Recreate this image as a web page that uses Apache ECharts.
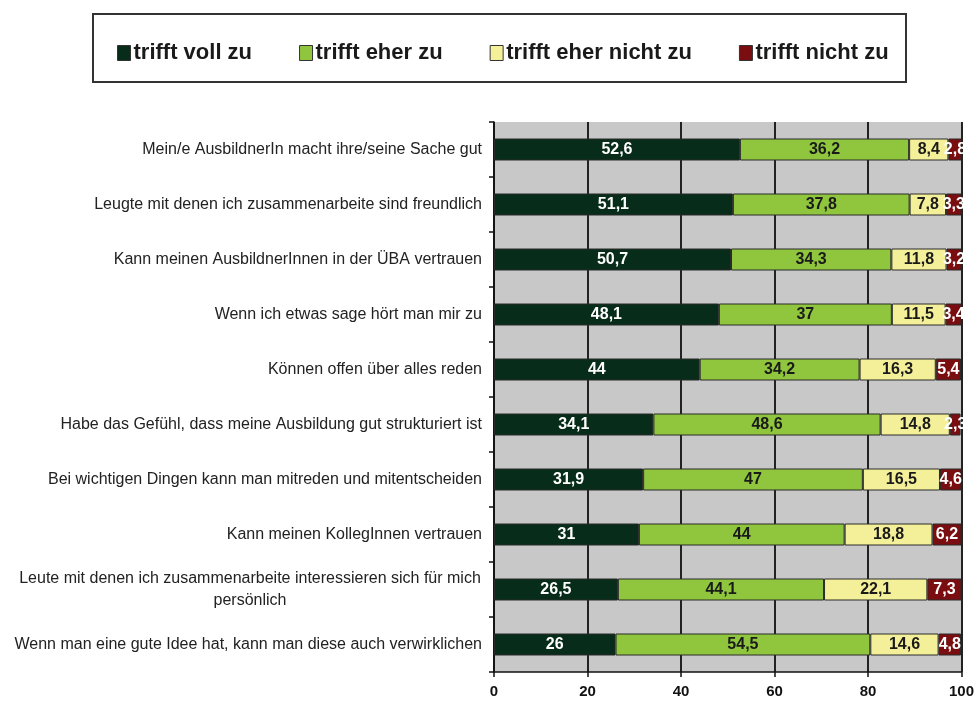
<!DOCTYPE html>
<html>
<head>
<meta charset="utf-8">
<script src="https://cdn.jsdelivr.net/npm/echarts@6/dist/echarts.min.js"></script>
<style>
  html, body { margin: 0; padding: 0; background: #fff; }
  #myChart { width: 977px; height: 702px; }
</style>
</head>
<body>
<div id="myChart"></div>
<script>
// Kategorien (von oben nach unten)
var categories = [
  'Mein/e AusbildnerIn macht ihre/seine Sache gut',
  'Leugte mit denen ich zusammenarbeite sind freundlich',
  'Kann meinen AusbildnerInnen in der ÜBA vertrauen',
  'Wenn ich etwas sage hört man mir zu',
  'Können offen über alles reden',
  'Habe das Gefühl, dass meine Ausbildung gut strukturiert ist',
  'Bei wichtigen Dingen kann man mitreden und mitentscheiden',
  'Kann meinen KollegInnen vertrauen',
  'Leute mit denen ich zusammenarbeite interessieren sich für mich\npersönlich',
  'Wenn man eine gute Idee hat, kann man diese auch verwirklichen'
]
var seriesNames = ['trifft voll zu', 'trifft eher zu', 'trifft eher nicht zu', 'trifft nicht zu']
var volZu = [52.6, 51.1, 50.7, 48.1, 44, 34.1, 31.9, 31, 26.5, 26]
var eherZu = [36.2, 37.8, 34.3, 37, 34.2, 48.6, 47, 44, 44.1, 54.5]
var eherNichtZu = [8.4, 7.8, 11.8, 11.5, 16.3, 14.8, 16.5, 18.8, 22.1, 14.6]
var nichtZu = [2.8, 3.3, 3.2, 3.4, 5.4, 2.3, 4.6, 6.2, 7.3, 4.8]
var xTicks = [0, 20, 40, 60, 80, 100]

var colors = ['#072c19', '#8fc63d', '#f4f09a', '#7a0d0f']
var labelColors = ['#ffffff', '#1a1a1a', '#1a1a1a', '#ffffff']
var values = [volZu, eherZu, eherNichtZu, nichtZu]
var font = 'Liberation Sans, Arial, sans-serif'

var myChart = echarts.init(document.getElementById('myChart'))

var series = values.map(function (data, i) {
  return {
    name: seriesNames[i],
    type: 'bar',
    stack: 'total',
    barWidth: 22,
    itemStyle: { color: colors[i], borderColor: '#2a2a2a', borderWidth: 1 },
    label: {
      show: true,
      position: 'inside',
      color: labelColors[i],
      fontFamily: font,
      fontWeight: 'bold',
      fontSize: 16,
      formatter: function (p) { return String(p.value).replace('.', ',') }
    },
    data: data
  }
})

var option = {
  animation: false,
  backgroundColor: '#ffffff',
  color: colors,
  graphic: [{
    type: 'rect',
    z: -1,
    shape: { x: 93, y: 14, width: 813, height: 68 },
    style: { fill: '#ffffff', stroke: '#333333', lineWidth: 2 }
  }],
  legend: {
    left: 112,
    top: 37,
    itemGap: 47,
    itemWidth: 13,
    itemHeight: 15,
    icon: 'rect',
    itemStyle: { borderColor: '#333333', borderWidth: 1 },
    textStyle: {
      fontFamily: font,
      fontWeight: 'bold',
      fontSize: 22,
      color: '#1a1a1a',
      padding: [0, 0, 0, -2]
    },
    data: seriesNames
  },
  grid: {
    left: 494,
    right: 14,
    top: 122,
    bottom: 30,
    show: true,
    backgroundColor: '#c8c8c8',
    borderWidth: 0
  },
  xAxis: {
    type: 'value',
    min: 0,
    max: 100,
    interval: 20,
    axisLine: { show: true, lineStyle: { color: '#111', width: 1.5 } },
    axisTick: { show: true, length: 5, lineStyle: { color: '#111', width: 1.5 } },
    splitLine: { show: true, lineStyle: { color: '#222', width: 2 } },
    axisLabel: {
      margin: 12,
      color: '#111',
      fontFamily: font,
      fontWeight: 'bold',
      fontSize: 15,
      formatter: function (v) { return xTicks.indexOf(v) >= 0 ? String(v) : '' }
    }
  },
  yAxis: {
    type: 'category',
    inverse: true,
    data: categories,
    axisLine: { show: true, lineStyle: { color: '#111', width: 1.5 } },
    axisTick: { show: true, length: 5, lineStyle: { color: '#111', width: 1.5 } },
    axisLabel: {
      margin: 12,
      color: '#222',
      fontFamily: font,
      fontSize: 16,
      lineHeight: 22,
      formatter: function (v) {
        if (v.indexOf('\n') >= 0) {
          return v.split('\n').map(function (l) { return '{c|' + l + '}' }).join('\n')
        }
        return v
      },
      rich: {
        c: {
          width: 464,
          align: 'center',
          fontFamily: font,
          fontSize: 16,
          lineHeight: 22,
          color: '#222'
        }
      }
    }
  },
  series: series
}

myChart.setOption(option)
</script>
</body>
</html>
